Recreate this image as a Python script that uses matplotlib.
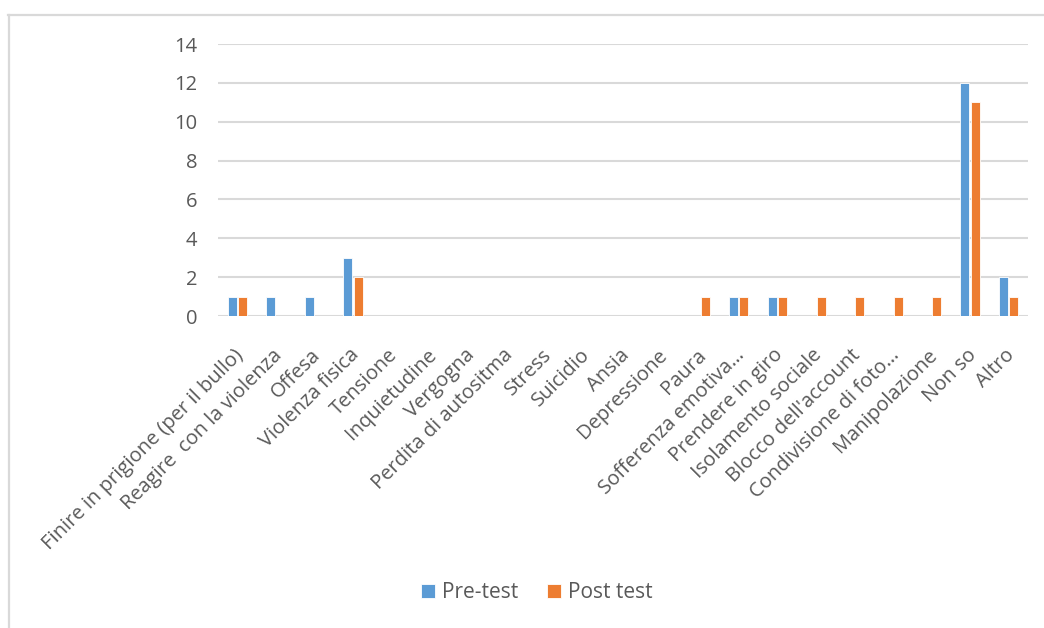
import matplotlib.pyplot as plt
from matplotlib.lines import Line2D
from matplotlib.transforms import ScaledTranslation
import numpy as np

categories = [
    "Finire in prigione (per il bullo)", "Reagire  con la violenza", "Offesa",
    "Violenza fisica", "Tensione", "Inquietudine", "Vergogna",
    "Perdita di autositma", "Stress", "Suicidio", "Ansia", "Depressione",
    "Paura", "Sofferenza emotiva…", "Prendere in giro", "Isolamento sociale",
    "Blocco dell'account", "Condivisione di foto…", "Manipolazione",
    "Non so", "Altro",
]
pre_test = [1, 1, 1, 3, 0, 0, 0, 0, 0, 0, 0, 0, 0, 1, 1, 0, 0, 0, 0, 12, 2]
post_test = [1, 0, 0, 2, 0, 0, 0, 0, 0, 0, 0, 0, 1, 1, 1, 1, 1, 1, 1, 11, 1]
series_names = ["Pre-test", "Post test"]
y_ticks = [0, 2, 4, 6, 8, 10, 12, 14]

BLUE = "#5b9bd5"
ORANGE = "#ed7d31"
GRID = "#d9d9d9"
TEXT = "#595959"

plt.rcParams["font.family"] = ["Open Sans", "DejaVu Sans"]

W, H = 1044, 628
fig = plt.figure(figsize=(W / 100, H / 100), dpi=100)
ax = fig.add_axes([218 / W, 1 - 316 / H, (1028 - 218) / W, (316 - 44) / H])

x = np.arange(len(categories))
bw = 0.235
off = 0.135
ax.bar(x - off, pre_test, bw, color=BLUE, edgecolor="white", linewidth=0.6,
       label=series_names[0], zorder=3)
ax.bar(x + off, post_test, bw, color=ORANGE, edgecolor="white", linewidth=0.6,
       label=series_names[1], zorder=3)

ax.set_xlim(-0.5, len(categories) - 0.5)
ax.set_ylim(0, 14)
ax.set_yticks(y_ticks)
ax.set_yticklabels([str(v) for v in y_ticks], fontsize=14.5, color=TEXT)
ax.yaxis.grid(True, color=GRID, linewidth=1.5, zorder=0)
ax.set_axisbelow(True)
for s in ax.spines.values():
    s.set_visible(False)
ax.tick_params(axis="y", length=0, pad=15)
ax.tick_params(axis="x", length=0, pad=21)
ax.set_xticks(x)
ax.set_xticklabels(categories, rotation=45, ha="right", va="top",
                   rotation_mode="anchor", fontsize=14.5, color=TEXT)
shift = ScaledTranslation(-4 / 100, 0, fig.dpi_scale_trans)
for lbl in ax.get_xticklabels():
    lbl.set_transform(lbl.get_transform() + shift)

leg = fig.legend(loc="center", bbox_to_anchor=(537 / W, 1 - 593 / H), ncol=2,
                 frameon=False, fontsize=15, handlelength=0.65, handleheight=0.65,
                 handletextpad=0.35, columnspacing=1.4)
for t in leg.get_texts():
    t.set_color(TEXT)

# light frame around the chart area
fig.add_artist(Line2D([8 / W, 1], [1 - 15 / H, 1 - 15 / H], color=GRID, lw=1.6))
fig.add_artist(Line2D([9 / W, 9 / W], [0, 1 - 15 / H], color=GRID, lw=1.6))

fig.savefig("out.png", dpi=100, facecolor="white")
